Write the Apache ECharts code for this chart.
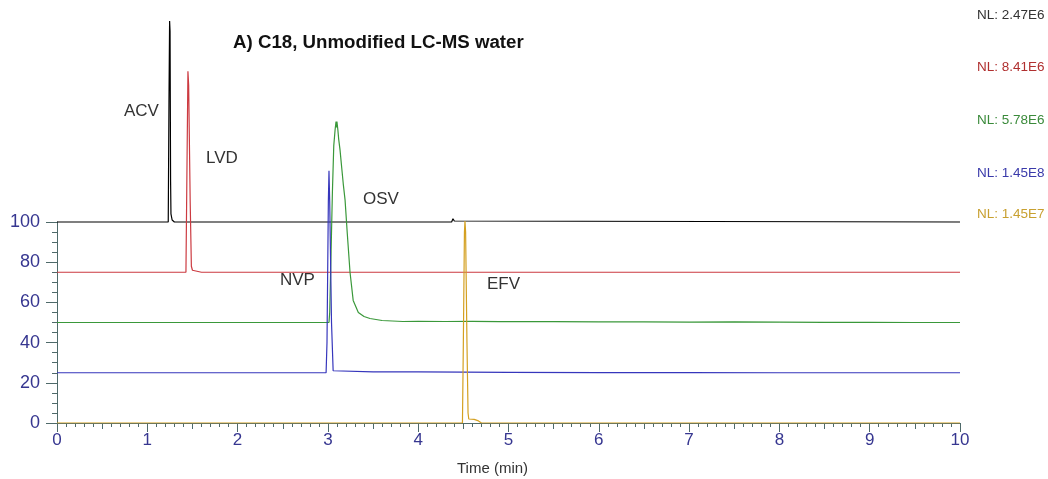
<!DOCTYPE html>
<html>
<head>
<meta charset="utf-8">
<script src="https://cdn.jsdelivr.net/npm/echarts@6/dist/echarts.min.js"></script>
<style>html,body{margin:0;padding:0;background:#fff;}#c{width:1048px;height:479px;}</style>
</head>
<body>
<div id="c"></div>
<script>
// ---- data (time in min, relative abundance incl. stacking offset) ----
const xTicks = [0,1,2,3,4,5,6,7,8,9,10];
const yTicks = [0,20,40,60,80,100];
const traceNames = ['ACV','LVD','OSV','NVP','EFV'];
const nlLabels = ['NL: 2.47E6','NL: 8.41E6','NL: 5.78E6','NL: 1.45E8','NL: 1.45E7'];

const acv = [[0,100],[0.5,100],[1.0,100],[1.232,100],[1.240,160],[1.247,200],[1.252,195],[1.258,120],[1.262,104],[1.275,101],[1.30,100],
  [2.36,100],[2.37,100.8],[2.38,100],[4.37,100],[4.385,101.6],[4.40,100.5],[4.42,100],[10,100]];
const lvd = [[0,75],[0.42,75],[0.43,75.8],[0.44,75],[1.428,75],[1.440,130],[1.450,175],[1.458,168],[1.475,110],[1.488,78],[1.50,76],[1.55,75.5],[1.60,75],[10,75]];
const osv = [[0,50],[1.0,50],[2.0,50],[3.012,50],[3.02,55],[3.035,85],[3.05,115],[3.065,138],[3.08,146],[3.09,150],[3.095,147],[3.10,150],[3.11,146],[3.12,141],
  [3.134,136],[3.153,127],[3.17,119],[3.19,111],[3.215,94],[3.245,75],[3.28,61],[3.337,55],[3.40,53],[3.466,52],[3.6,51],[3.83,50.5],
  [4.0,50.6],[4.3,50.5],[4.6,50.6],[4.9,50.4],[5.2,50.5],[5.5,50.4],[6.0,50.3],[6.5,50.3],[7.0,50.2],[7.5,50.3],[8.0,50.2],[8.5,50.1],[9.0,50.1],[9.5,50.0],[10,50]];
const nvp = [[0,25],[1.0,25],[2.0,25],[2.98,25],[2.99,40],[3.005,110],[3.012,125.5],[3.02,110],[3.04,50],[3.058,26],[3.08,25.5],
  [3.5,25.4],[4.0,25.4],[4.5,25.3],[5.0,25.2],[6.0,25.1],[7.0,25.1],[8.0,25],[10,25]];
const efv = [[0,0],[4.49,0],[4.50,40],[4.512,95],[4.518,100.5],[4.525,95],[4.54,40],[4.552,5],[4.56,2],[4.62,1.8],[4.66,1.2],[4.70,0],
  [5.52,0],[5.53,0.8],[5.54,0],[10,0]];

const traceData = [acv, lvd, osv, nvp, efv];
const traceColors = ['#000000','#cc3a40','#3a983a','#3636bc','#d4a020'];
const nlColors = ['#333333','#b03030','#3a8a3a','#3a3aaa','#c8a030'];

const axisColor = '#4f6a6a';
const labelColor = '#363690';
const font = '"Liberation Sans", Arial, sans-serif';

const chart = echarts.init(document.getElementById('c'), null, {renderer:'canvas'});

const series = traceData.map((d, i) => ({
  name: traceNames[i], type: 'line', data: d, xAxisIndex: 2, yAxisIndex: 1,
  showSymbol: false, symbol: 'none', animation: false,
  lineStyle: { color: traceColors[i], width: 1.2 }, z: 3 + i
}));

const graphics = [
  { type:'text', left: 233, top: 33, style:{ text:'A) C18, Unmodified LC-MS water', font:'bold 18.7px '+font, fill:'#111' } },
  { type:'text', left: 124, top: 103, style:{ text:'ACV', font:'17px '+font, fill:'#333' } },
  { type:'text', left: 206, top: 150, style:{ text:'LVD', font:'17px '+font, fill:'#333' } },
  { type:'text', left: 363, top: 191, style:{ text:'OSV', font:'17px '+font, fill:'#333' } },
  { type:'text', left: 280, top: 272, style:{ text:'NVP', font:'17px '+font, fill:'#333' } },
  { type:'text', left: 487, top: 276, style:{ text:'EFV', font:'17px '+font, fill:'#333' } },
  { type:'text', left: 457, top: 461, style:{ text:'Time (min)', font:'15px '+font, fill:'#333' } }
];
const nlY = [8, 60, 113, 166, 207];
nlLabels.forEach((t, i) => graphics.push({ type:'text', left: 977, top: nlY[i], style:{ text:t, font:'13.5px '+font, fill:nlColors[i] } }));

chart.setOption({
  backgroundColor: '#fff',
  animation: false,
  grid: [
    { left: 57, right: 88, top: 222, bottom: 56 },
    { left: 57, right: 88, top: 21, bottom: 56 }
  ],
  xAxis: [
    { gridIndex: 0, type: 'value', position: 'bottom', min: xTicks[0], max: xTicks[xTicks.length-1], interval: 1,
      axisLine: { show: true, lineStyle: { color: axisColor, width: 1 } },
      axisTick: { show: true, length: 9, lineStyle: { color: axisColor } },
      minorTick: { show: true, splitNumber: 10, length: 4, lineStyle: { color: axisColor } },
      axisLabel: { color: labelColor, fontSize: 17, fontFamily: font, margin: 9 },
      splitLine: { show: false }, minorSplitLine: { show: false } },
    { gridIndex: 0, type: 'value', position: 'bottom', offset: 0, min: 0, max: 10, interval: 0.5,
      axisLine: { show: false }, axisLabel: { show: false },
      axisTick: { show: true, length: 6, lineStyle: { color: axisColor } },
      splitLine: { show: false } },
    { gridIndex: 1, type: 'value', min: 0, max: 10, show: false }
  ],
  yAxis: [
    { gridIndex: 0, type: 'value', min: yTicks[0], max: yTicks[yTicks.length-1], interval: 20,
      axisLine: { show: true, lineStyle: { color: axisColor, width: 1 } },
      axisTick: { show: true, length: 11, lineStyle: { color: axisColor } },
      minorTick: { show: true, splitNumber: 4, length: 5, lineStyle: { color: axisColor } },
      axisLabel: { color: labelColor, fontSize: 18, fontFamily: font, margin: 17 },
      splitLine: { show: false } },
    { gridIndex: 1, type: 'value', min: 0, max: 200, show: false }
  ],
  series: series,
  graphic: graphics
});
</script>
</body>
</html>
